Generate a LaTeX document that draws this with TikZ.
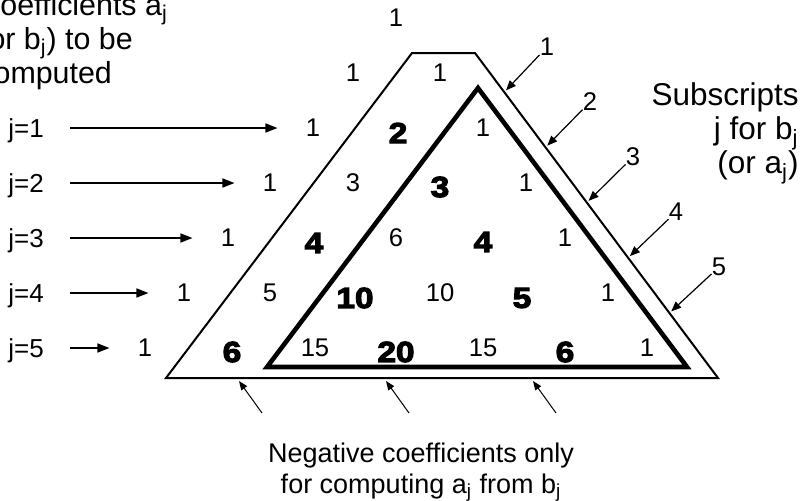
\documentclass[tikz,border=0pt]{standalone}
\usepackage{fontspec}
\setmainfont{Liberation Sans}
\newfontfamily\heavyfont[FakeBold=4,FakeStretch=1.15]{Liberation Sans Bold}
\usepackage{tikz}
\usetikzlibrary{calc}
\usetikzlibrary{arrows.meta}
\tikzset{
  num/.style={font=\fontsize{12.8}{14}\selectfont, inner sep=0pt},
  heavynum/.style={font=\fontsize{14.5}{16}\heavyfont, inner sep=0pt},
  jlabel/.style={font=\fontsize{13}{14}\selectfont, inner sep=0pt, text depth=0pt},
  rowarrow/.style={-{Triangle[length=6pt,width=4.5pt]}, line width=0.8pt, shorten <=13pt, shorten >=14pt},
  edgearrow/.style={-{Triangle[length=5pt,width=4pt]}, line width=0.6pt},
  basearrow/.style={-{Triangle[length=4.5pt,width=3.5pt]}, line width=0.5pt}
}

\begin{document}
\begin{tikzpicture}[x=0.5pt,y=-0.5pt]
      \useasboundingbox (0,0) rectangle (803,500);
      \clip (0,0) rectangle (803,500);
      \coordinate (otl) at (412,53);
      \coordinate (otr) at (475,53);
      \coordinate (obr) at (718,378);
      \coordinate (obl) at (166,378);
      \draw[line width=1pt] (obl) -- (otl) -- (otr) -- (obr) -- cycle;
      \coordinate (itop) at (478,88);
      \coordinate (ibl) at (267,367);
      \coordinate (ibr) at (687,367);
      \draw[line width=2.3pt] (ibl) -- (itop) -- (ibr) -- cycle;

      \foreach \nm/\px/\py/\v in {n00/396/18/1, n10/353/73/1, n11/440/73/1,
        n20/313/128/1, n22/483/128/1, n30/270/183/1, n31/353/183/3, n33/526/183/1,
        n40/228/238/1, n42/396/238/6, n44/565/238/1,
        n50/184/293/1, n51/270/293/5, n53/440/293/10, n55/608/293/1,
        n60/145/348/1, n62/315/348/15, n64/483/348/15, n66/647/348/1}
        \node[num] (\nm) at (\px,\py) {\v};
      \foreach \nm/\px/\py/\v in {n21/398/133/2, n32/440/187/3, n41/314/243/4, n43/483/242/4,
        n52/355/298/10, n54/522/298/5, n61/232/352/6, n63/396/352/20, n65/565/352/6}
        \node[heavynum] (\nm) at (\px,\py) {\v};

      \foreach \k/\py/\tgt in {1/128/n20, 2/183/n30, 3/238/n40, 4/293/n50, 5/348/n60}{
        \node[jlabel, anchor=west] (j\k) at (8,\py) {j=\k};
        \draw[rowarrow] (j\k) -- (\tgt);
      }

      \foreach \k in {1,...,5}{
        \coordinate (t\k) at ($(otr)!{0.115+0.17*(\k-1)}!(obr)+(3,0)$);
        \node[num] (s\k) at ({547+43*(\k-1)},{47+55*(\k-1)}) {\k};
        \draw[edgearrow] (s\k) -- (t\k);
      }

      \foreach \k/\px in {1/262, 2/409, 3/556}{
        \coordinate (ub\k) at (\px,413);
        \coordinate (ut\k) at ({\px-23},381);
        \draw[basearrow] (ub\k) -- (ut\k);
      }

      \node[anchor=base west, align=left, inner sep=0pt, font=\fontsize{15.2}{14.5}\selectfont] (coef) at (-22,83)
        {Coefficients a\textsubscript{j}\\(or b\textsubscript{j}) to be\\computed};
      \node[anchor=base east, align=right, inner sep=0pt, font=\fontsize{15.75}{17}\selectfont] (subs) at (799,173)
        {Subscripts\\j for b\textsubscript{j}\\(or a\textsubscript{j})};
      \node[anchor=base, align=center, inner sep=0pt, font=\fontsize{13.5}{15.5}\selectfont] (neg) at (421,493)
        {Negative coefficients only\\for computing a\textsubscript{j} from b\textsubscript{j}};
    \end{tikzpicture}
\end{document}
